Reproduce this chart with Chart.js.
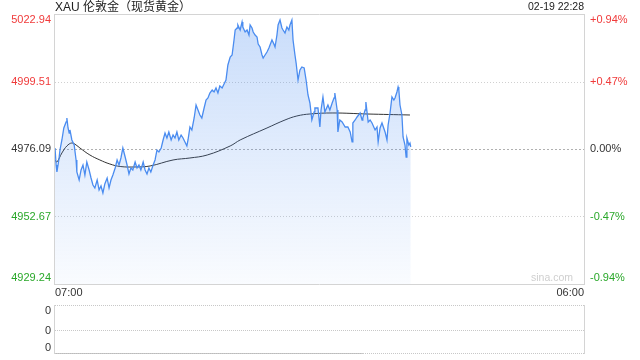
<!DOCTYPE html>
<html>
<head>
<meta charset="utf-8">
<script src="https://cdn.jsdelivr.net/npm/chart.js@4.4.0/dist/chart.umd.min.js"></script>
<style>
  html, body { margin: 0; padding: 0; background: #fff; }
  #wrap { position: relative; width: 640px; height: 360px; }
  canvas { position: absolute; left: 0; }
  #priceChart { top: 0; }
  #volChart { top: 300px; }
</style>
</head>
<body>
<div id="wrap">
  <canvas id="priceChart" width="640" height="300"></canvas>
  <canvas id="volChart" width="640" height="60"></canvas>
</div>
<script>
// 标题
const title = 'XAU 伦敦金（现货黄金）';
const stamp = '02-19 22:28';

// 坐标刻度
const priceTicks = [5022.94, 4999.51, 4976.09, 4952.67, 4929.24];
const pctTicks = ['+0.94%', '+0.47%', '0.00%', '-0.47%', '-0.94%'];
const timeTicks = ['07:00', '06:00'];
const timeTickMin = [0, 1380];   // 07:00 起的分钟数
const volTicks = ['0', '0', '0'];

// 价格走势（07:00 起的分钟数）
const priceTime = [
  0, 3, 5, 10, 13, 18, 23, 29, 31, 34, 37, 39, 44, 50, 55, 57, 63, 68, 73, 78,
  83, 89, 94, 99, 104, 110, 115, 120, 125, 130, 136, 141, 146, 151, 157, 162, 167, 172, 177, 183,
  188, 193, 198, 203, 209, 214, 219, 224, 230, 235, 240, 245, 250, 256, 261, 266, 271, 277, 282, 287,
  292, 297, 303, 308, 313, 318, 323, 329, 334, 339, 344, 347, 352, 357, 363, 368, 373, 378, 383, 389,
  394, 399, 404, 410, 415, 420, 425, 430, 436, 441, 446, 451, 457, 462, 467, 470, 475, 477, 483, 488,
  490, 496, 501, 506, 509, 514, 517, 522, 527, 530, 535, 540, 543, 548, 553, 558, 561, 566, 571, 574,
  579, 582, 587, 592, 595, 600, 605, 610, 613, 618, 621, 626, 629, 634, 639, 644, 650, 655, 660, 665,
  670, 676, 678, 686, 691, 694, 699, 704, 712, 717, 723, 728, 730, 736, 738, 743, 749, 757, 764, 770,
  775, 777, 783, 788, 796, 801, 803, 809, 811, 817, 822, 827, 835, 840, 843, 848, 853, 861, 866, 869,
  874, 879, 884, 887, 892, 895, 897, 900, 905, 908, 913, 916, 918, 923, 926, 928
];
const priceValue = [
  4976.44, 4970.54, 4968.12, 4972.28, 4975.75, 4979.22, 4983.38, 4985.47, 4986.85, 4983.38,
  4981.65, 4982.69, 4979.22, 4977.48, 4972.28, 4968.12, 4965.34, 4968.81, 4970.54, 4967.07,
  4971.59, 4968.81, 4966.03, 4963.60, 4962.56, 4965.34, 4961.87, 4963.26, 4960.83, 4963.95,
  4966.03, 4962.56, 4965.34, 4967.07, 4969.50, 4972.28, 4970.54, 4972.97, 4976.44, 4973.32,
  4970.54, 4967.42, 4969.50, 4968.81, 4971.59, 4969.50, 4970.54, 4968.81, 4971.59, 4968.81,
  4967.42, 4969.50, 4968.12, 4970.54, 4972.28, 4975.75, 4975.06, 4976.44, 4979.22, 4981.65,
  4979.91, 4982.00, 4979.22, 4980.95, 4979.91, 4982.00, 4979.22, 4980.95, 4979.91, 4978.53,
  4977.14, 4979.22, 4983.73, 4982.69, 4986.85, 4991.36, 4989.63, 4987.89, 4986.85, 4990.32,
  4993.10, 4993.79, 4995.53, 4996.57, 4995.88, 4997.26, 4995.53, 4997.96, 4997.26, 4998.65,
  5000.04, 5005.24, 5008.02, 5008.71, 5013.92, 5017.39, 5018.08, 5019.12, 5017.39, 5020.17,
  5018.43, 5016.70, 5017.39, 5015.65, 5019.12, 5018.08, 5016.70, 5015.65, 5014.96, 5012.53,
  5011.49, 5008.71, 5007.67, 5008.71, 5009.76, 5011.14, 5012.18, 5013.92, 5012.53, 5011.49,
  5015.65, 5019.12, 5020.86, 5018.08, 5017.39, 5016.35, 5018.43, 5017.39, 5019.12, 5020.86,
  5013.92, 5008.71, 5005.94, 5000.04, 5003.51, 5004.55, 5004.20, 5000.04, 4994.83, 4992.06,
  4986.16, 4988.94, 4990.32, 4990.32, 4983.73, 4989.63, 4994.14, 4988.94, 4991.36, 4989.63,
  4992.06, 4993.79, 4995.53, 4989.63, 4982.00, 4986.16, 4985.47, 4983.73, 4983.73, 4982.00,
  4978.53, 4985.12, 4986.16, 4987.20, 4988.59, 4986.16, 4986.85, 4989.63, 4992.41, 4985.47,
  4986.16, 4985.12, 4982.69, 4983.73, 4978.53, 4983.38, 4985.12, 4982.00, 4979.22, 4984.42,
  4988.59, 4994.14, 4993.10, 4993.79, 4995.88, 4997.61, 4996.57, 4991.36, 4987.89, 4980.26,
  4977.48, 4973.32, 4979.91, 4977.48, 4978.18, 4976.79
];

// 均价线
const avgTime = [0, 5, 18, 31, 44, 55, 65, 91, 117, 143, 170, 209, 248, 308, 352, 397, 457, 483, 553, 600, 631, 665, 725, 814, 926];
const avgValue = [
  4972.28, 4971.59, 4974.71, 4977.14, 4978.18, 4977.48, 4976.44, 4974.01, 4972.28, 4970.89,
  4970.02, 4969.85, 4970.20, 4972.28, 4972.97, 4974.00, 4977.14, 4979.22, 4983.38, 4986.16,
  4987.55, 4988.24, 4988.59, 4988.24, 4987.89
];

// 成交量（全为 0）
const volTime = [0, 803];
const volValue = [0, 0];

const FONT = '"Liberation Sans", Arial, sans-serif';
const RED = '#f03a3a';
const GREEN = '#2aa82a';
const labelColors = [RED, RED, '#333', GREEN, GREEN];

const toPoints = (xs, ys) => xs.map((t, i) => ({ x: t, y: ys[i] }));

function hline(ctx, x1, x2, y, color, dash) {
  ctx.beginPath();
  ctx.setLineDash(dash || []);
  ctx.strokeStyle = color;
  ctx.lineWidth = 1;
  ctx.moveTo(x1, y);
  ctx.lineTo(x2, y);
  ctx.stroke();
}
function vline(ctx, x, y1, y2, color) {
  ctx.beginPath();
  ctx.setLineDash([]);
  ctx.strokeStyle = color;
  ctx.lineWidth = 1;
  ctx.moveTo(x, y1);
  ctx.lineTo(x, y2);
  ctx.stroke();
}

// 主图框线、网格和文字
const priceFrame = {
  id: 'priceFrame',
  beforeDatasetsDraw(chart) {
    const { ctx, chartArea: a, scales: { y } } = chart;
    ctx.save();
    priceTicks.forEach((v, i) => {
      const py = Math.round(y.getPixelForValue(v)) + 0.5;
      if (i === 0 || i === priceTicks.length - 1) return;
      if (i === 2) hline(ctx, a.left, a.right, py, '#b0b0b0', [2, 2]);
      else hline(ctx, a.left, a.right, py, '#d0d0d0', [1, 2]);
    });
    ctx.restore();
  },
  afterDraw(chart) {
    const { ctx, chartArea: a, scales: { x, y } } = chart;
    ctx.save();
    const top = Math.round(y.getPixelForValue(priceTicks[0])) + 0.5;
    const bot = Math.round(y.getPixelForValue(priceTicks[priceTicks.length - 1])) + 0.5;
    hline(ctx, a.left - 1, a.right + 1, top, '#d4d4d4');
    hline(ctx, a.left - 1, a.right + 1, bot, '#d4d4d4');
    vline(ctx, a.left - 0.5, top, bot, '#d4d4d4');
    vline(ctx, a.right + 0.5, top, bot, '#d4d4d4');

    ctx.font = '11px ' + FONT;
    ctx.textBaseline = 'middle';
    priceTicks.forEach((v, i) => {
      let py = y.getPixelForValue(v);
      if (i === 0) py += 6;
      if (i === priceTicks.length - 1) py -= 6;
      ctx.fillStyle = labelColors[i];
      ctx.textAlign = 'right';
      ctx.fillText(v.toFixed(2), a.left - 4, py);
      ctx.textAlign = 'left';
      ctx.fillText(pctTicks[i], a.right + 6, py);
    });

    // 时间刻度
    ctx.fillStyle = '#333';
    ctx.textAlign = 'left';
    ctx.fillText(timeTicks[0], x.getPixelForValue(timeTickMin[0]), a.bottom + 9);
    ctx.textAlign = 'right';
    ctx.fillText(timeTicks[1], x.getPixelForValue(timeTickMin[1]), a.bottom + 9);

    // 标题和时间
    ctx.font = '12px ' + FONT + ', "Noto Sans CJK SC"';
    ctx.textAlign = 'left';
    ctx.fillStyle = '#222';
    ctx.fillText(title, a.left, 7.5);
    ctx.font = '10.5px ' + FONT;
    ctx.textAlign = 'right';
    ctx.fillText(stamp, a.right, 7.5);

    // 水印
    ctx.font = '10.5px ' + FONT;
    ctx.fillStyle = '#cfcfcf';
    ctx.fillText('sina.com', a.right - 11, a.bottom - 6);
    ctx.restore();
  }
};

const priceCtx = document.getElementById('priceChart').getContext('2d');
new Chart(priceCtx, {
  type: 'line',
  data: {
    datasets: [{
      data: toPoints(priceTime, priceValue),
      borderColor: '#4a8cf0',
      borderWidth: 1.3,
      pointRadius: 0,
      tension: 0,
      fill: 'start',
      backgroundColor: (c) => {
        const a = c.chart.chartArea;
        if (!a) return 'rgba(74,140,240,0.2)';
        const g = c.chart.ctx.createLinearGradient(0, a.top, 0, a.bottom);
        g.addColorStop(0, 'rgba(74,140,240,0.30)');
        g.addColorStop(1, 'rgba(74,140,240,0.03)');
        return g;
      }
    }, {
      data: toPoints(avgTime, avgValue),
      borderColor: '#333',
      borderWidth: 1,
      pointRadius: 0,
      tension: 0.4,
      fill: false
    }]
  },
  options: {
    responsive: false,
    animation: false,
    events: [],
    layout: { padding: { left: 55, right: 56, top: 14, bottom: 16 } },
    plugins: { legend: { display: false }, tooltip: { enabled: false } },
    scales: {
      x: { type: 'linear', display: false, min: timeTickMin[0], max: timeTickMin[1] },
      y: { display: false, min: priceTicks[4], max: priceTicks[0] }
    }
  },
  plugins: [priceFrame]
});

// 成交量副图
const volFrame = {
  id: 'volFrame',
  afterDraw(chart) {
    const { ctx, chartArea: a } = chart;
    ctx.save();
    const ys = [a.top + 0.5, Math.round((a.top + a.bottom) / 2) + 0.5, a.bottom - 0.5];
    ys.forEach((py) => hline(ctx, a.left, a.right, py, '#c8c8c8', [1, 1]));
    vline(ctx, a.left - 0.5, a.top, a.bottom, '#d4d4d4');
    vline(ctx, a.right + 0.5, a.top, a.bottom, '#d4d4d4');
    ctx.font = '11px ' + FONT;
    ctx.fillStyle = '#333';
    ctx.textAlign = 'right';
    ctx.textBaseline = 'middle';
    ctx.fillText(volTicks[0], a.left - 4, ys[0] + 5);
    ctx.fillText(volTicks[1], a.left - 4, ys[1]);
    ctx.fillText(volTicks[2], a.left - 4, ys[2] - 6);
    ctx.restore();
  }
};

const volCtx = document.getElementById('volChart').getContext('2d');
new Chart(volCtx, {
  type: 'line',
  data: {
    datasets: [{
      data: toPoints(volTime, volValue),
      borderColor: '#777',
      borderWidth: 1,
      pointRadius: 0,
      fill: false
    }]
  },
  options: {
    responsive: false,
    animation: false,
    events: [],
    layout: { padding: { left: 55, right: 56, top: 5, bottom: 6 } },
    plugins: { legend: { display: false }, tooltip: { enabled: false } },
    scales: {
      x: { type: 'linear', display: false, min: timeTickMin[0], max: timeTickMin[1] },
      y: { display: false, min: 0, max: 1 }
    }
  },
  plugins: [volFrame]
});
</script>
</body>
</html>
